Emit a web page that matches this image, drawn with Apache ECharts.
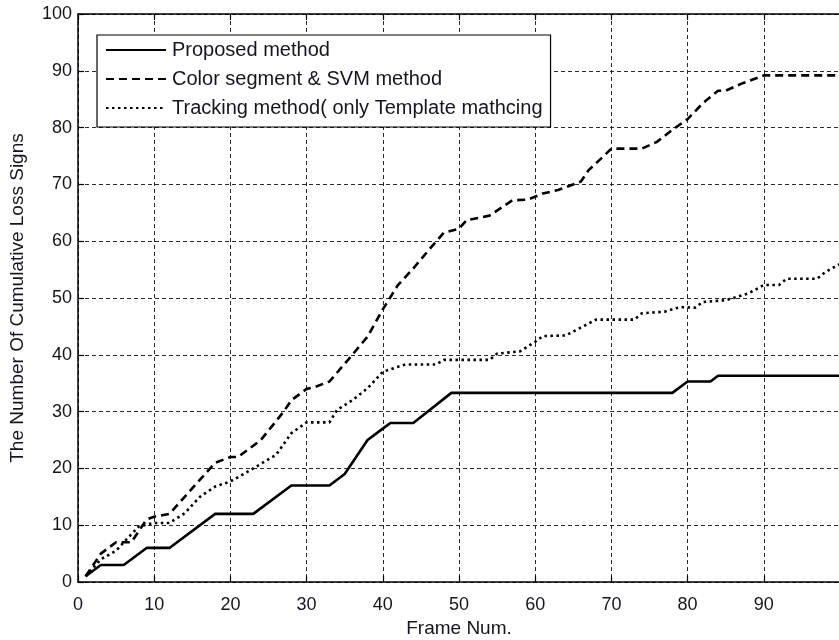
<!DOCTYPE html>
<html>
<head>
<meta charset="utf-8">
<script src="https://cdn.jsdelivr.net/npm/echarts@6/dist/echarts.min.js"></script>
<style>html,body{margin:0;padding:0;background:#fff;}#c{width:839px;height:640px;}</style>
</head>
<body>
<div id="c"></div>
<script>
const seriesNames = ['Proposed method', 'Color segment & SVM method', 'Tracking method( only Template mathcing'];
const xTicks = [0, 10, 20, 30, 40, 50, 60, 70, 80, 90, 100];

const proposedX = [1, 3, 6, 9, 12, 18, 23, 28, 33, 35, 38, 40, 41, 44, 49, 78, 80, 83, 84, 100];
const proposedY = [1, 3, 3, 6, 6, 12, 12, 17, 17, 19, 25, 27, 28, 28, 33.3, 33.3, 35.3, 35.3, 36.3, 36.3];

const svmX = [1, 3, 5, 7, 9, 10, 12, 14, 18, 20, 21, 23, 24, 27, 28, 30, 31, 33, 36, 38, 40, 42, 44, 46, 48, 50, 51, 54, 57, 59, 61, 63, 66, 67, 69, 70, 74, 76, 78, 80, 82, 84, 85, 87, 90, 100];
const svmY = [1, 5, 7, 7, 11, 11.5, 12, 15, 21, 22, 22, 24, 25, 30, 32, 34, 34.3, 35.3, 40, 43.2, 48, 52.3, 55.2, 58.4, 61.5, 62.2, 63.7, 64.5, 67.2, 67.3, 68.4, 69, 70.5, 72.5, 75, 76.3, 76.3, 77.5, 79.6, 81.5, 84.3, 86.5, 86.5, 87.7, 89.2, 89.2];

const trackX = [1, 3, 5, 6, 8, 10, 12, 14, 16, 18, 20, 23, 26, 28, 30, 33, 34, 36, 38, 40, 42, 43, 47, 48, 54, 55, 58, 60, 61, 64, 66, 68, 73, 74, 77, 79, 81, 82, 85, 88, 90, 92, 93, 97, 98, 100];
const trackY = [1, 4, 5.5, 7, 9.8, 10.4, 10.4, 12.1, 15, 16.8, 17.7, 20, 22.4, 26.2, 28.1, 28.1, 30.3, 32, 34.1, 37, 37.9, 38.3, 38.3, 39.1, 39.1, 40.2, 40.6, 42.3, 43.3, 43.4, 44.8, 46.2, 46.2, 47.3, 47.6, 48.4, 48.3, 49.3, 49.6, 50.8, 52.3, 52.3, 53.4, 53.4, 54.5, 56];

function pairs(xs, ys) { return xs.map((x, i) => [x, ys[i]]); }

const txt = '#15151f';
const font = 'Liberation Sans, Arial, sans-serif';
const gridLine = { show: true, lineStyle: { color: '#2a2a2a', width: 1, type: [4, 3] } };

const chart = echarts.init(document.getElementById('c'), null, { renderer: 'canvas' });
chart.setOption({
  animation: false,
  backgroundColor: '#fff',
  textStyle: { fontFamily: font },
  grid: { left: 78, top: 14, width: 762, height: 568, containLabel: false, outerBoundsMode: 'none' },
  legend: {
    data: seriesNames,
    orient: 'vertical',
    left: 97, top: 35,
    itemWidth: 60, itemHeight: 14, itemGap: 9,
    padding: [5, 8, 9, 8],
    backgroundColor: '#fff',
    borderColor: '#000', borderWidth: 1.2, borderRadius: 0,
    itemStyle: { opacity: 0 },
    textStyle: { fontSize: 20, color: txt, fontFamily: font, padding: [0, 0, 0, 1] },
    selectedMode: false
  },
  xAxis: [{
    type: 'value', min: xTicks[0], max: xTicks[xTicks.length - 1], interval: 10,
    position: 'bottom',
    name: 'Frame Num.', nameLocation: 'middle', nameGap: 25,
    nameTextStyle: { fontSize: 19, color: txt, fontFamily: font },
    axisLine: { show: true, lineStyle: { color: '#000', width: 1.5 } },
    axisTick: { show: true, inside: true, length: 6, lineStyle: { color: '#000', width: 1.2 } },
    axisLabel: { fontSize: 18, color: txt, margin: 14, fontFamily: font, showMaxLabel: false },
    splitLine: gridLine
  }, {
    type: 'value', min: xTicks[0], max: xTicks[xTicks.length - 1], interval: 10,
    position: 'top',
    axisLine: { show: true, lineStyle: { color: '#000', width: 1.5 } },
    axisTick: { show: true, inside: true, length: 6, lineStyle: { color: '#000', width: 1.2 } },
    axisLabel: { show: false },
    splitLine: { show: false }
  }],
  yAxis: {
    type: 'value', min: 0, max: 100, interval: 10,
    name: 'The Number Of Cumulative Loss Signs', nameLocation: 'middle', nameGap: 51,
    nameTextStyle: { fontSize: 19, color: txt, fontFamily: font },
    axisLine: { show: true, lineStyle: { color: '#000', width: 1.5 } },
    axisTick: { show: true, inside: true, length: 6, lineStyle: { color: '#000', width: 1.2 } },
    axisLabel: { fontSize: 18, color: txt, margin: 6, fontFamily: font },
    splitLine: gridLine
  },
  series: [
    { name: seriesNames[0], type: 'line', data: pairs(proposedX, proposedY), showSymbol: false, symbol: 'none',
      lineStyle: { color: '#000', width: 2.6, type: 'solid' }, itemStyle: { color: '#000' } },
    { name: seriesNames[1], type: 'line', data: pairs(svmX, svmY), showSymbol: false, symbol: 'none',
      lineStyle: { color: '#000', width: 2.6, type: [8, 5] }, itemStyle: { color: '#000' } },
    { name: seriesNames[2], type: 'line', data: pairs(trackX, trackY), showSymbol: false, symbol: 'none',
      lineStyle: { color: '#000', width: 2.6, type: [2.5, 3.5] }, itemStyle: { color: '#000' } }
  ]
});
</script>
</body>
</html>
